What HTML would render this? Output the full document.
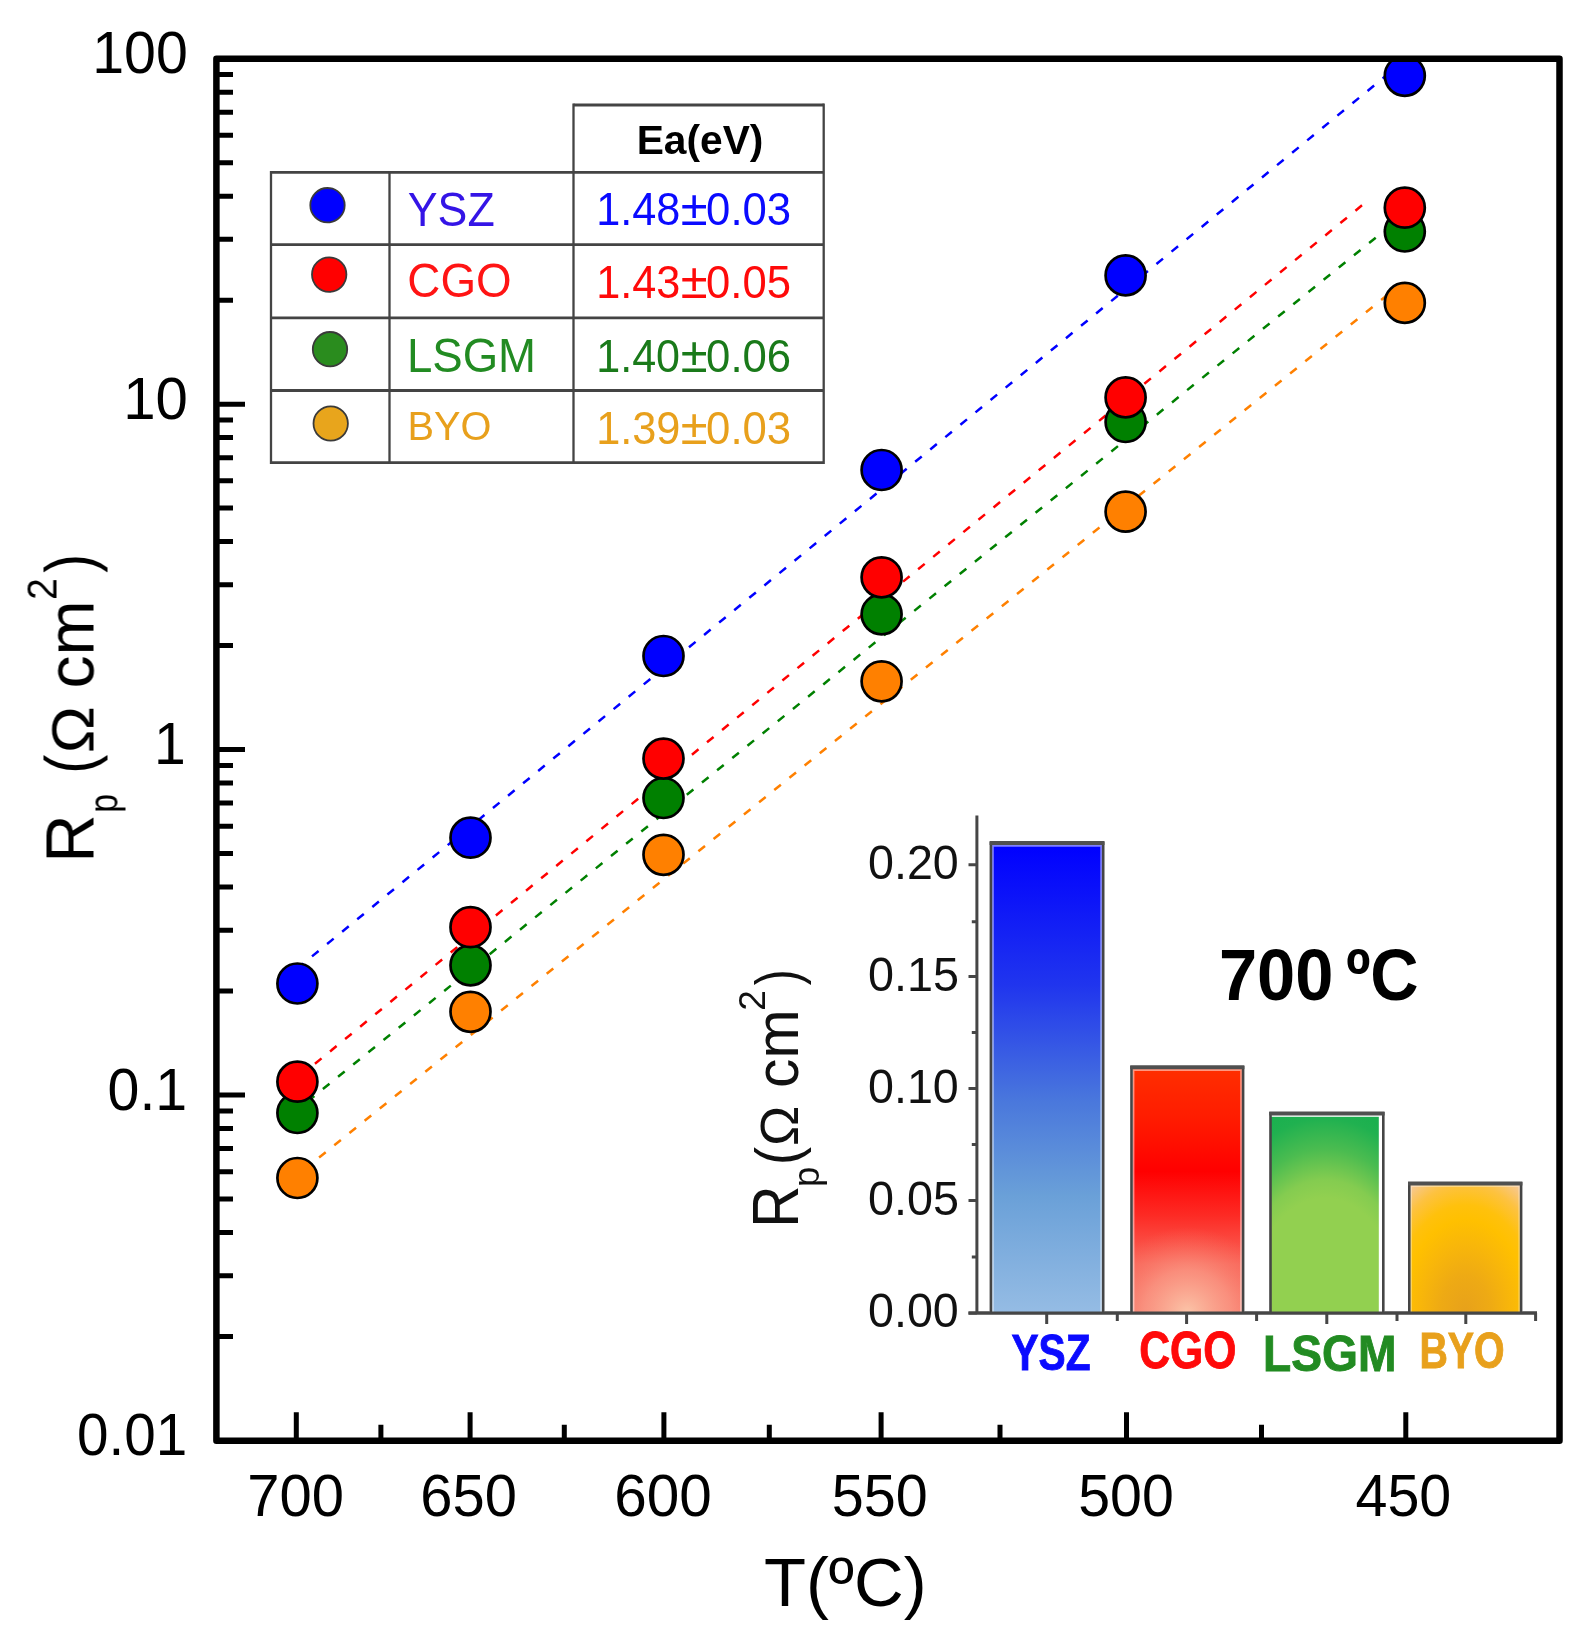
<!DOCTYPE html>
<html lang="en"><head><meta charset="utf-8"><title>Rp vs T</title>
<style>html,body{margin:0;padding:0;background:#fff}svg{display:block}</style></head>
<body>
<svg width="1578" height="1646" viewBox="0 0 1578 1646" font-family='"Liberation Sans", Arial, Helvetica, sans-serif' style="font-kerning:none">
<defs>
<filter id="soft" filterUnits="userSpaceOnUse" x="0" y="0" width="1578" height="1646" color-interpolation-filters="sRGB"><feGaussianBlur stdDeviation="0.7"/></filter>
<clipPath id="plot"><rect x="216.4" y="58.8" width="1343.1" height="1382.0"/></clipPath>
<linearGradient id="gB" x1="0" y1="0" x2="0" y2="1"><stop offset="0" stop-color="#0000ff"/><stop offset="0.3" stop-color="#2035ee"/><stop offset="0.55" stop-color="#4a78dc"/><stop offset="0.75" stop-color="#6aa0d8"/><stop offset="1" stop-color="#95bce4"/></linearGradient>
<linearGradient id="gR" x1="0" y1="0" x2="0" y2="1"><stop offset="0" stop-color="#ff2e00"/><stop offset="0.2" stop-color="#ff1c00"/><stop offset="0.42" stop-color="#ff0000"/><stop offset="0.6" stop-color="#fd2a24"/><stop offset="0.8" stop-color="#f9665a"/><stop offset="1" stop-color="#f7786a"/></linearGradient>
<radialGradient id="gR2" cx="0.5" cy="1" r="0.8" gradientTransform="translate(0 0.56) scale(1 0.44)"><stop offset="0" stop-color="#fbc4a8" stop-opacity="1"/><stop offset="0.5" stop-color="#fa9c88" stop-opacity="0.7"/><stop offset="1" stop-color="#f8705f" stop-opacity="0"/></radialGradient>
<radialGradient id="gG" gradientUnits="userSpaceOnUse" cx="0" cy="0" r="205" gradientTransform="translate(1325 1313) scale(0.667 1)"><stop offset="0" stop-color="#92d050"/><stop offset="0.56" stop-color="#92d050"/><stop offset="0.65" stop-color="#84cc50"/><stop offset="0.8" stop-color="#4bbc50"/><stop offset="0.95" stop-color="#20b150"/><stop offset="1" stop-color="#1cb04f"/></radialGradient>
<radialGradient id="gO" gradientUnits="userSpaceOnUse" cx="0" cy="0" r="150" gradientTransform="translate(1465.3 1313) scale(0.667 1)"><stop offset="0" stop-color="#e7a11b"/><stop offset="0.25" stop-color="#eeaa14"/><stop offset="0.45" stop-color="#f8b60a"/><stop offset="0.62" stop-color="#ffc000"/><stop offset="0.72" stop-color="#ffc10c"/><stop offset="0.86" stop-color="#fdc240"/><stop offset="1" stop-color="#f7c894"/></radialGradient>
</defs>
<rect width="1578" height="1646" fill="#fff"/>
<g filter="url(#soft)">
<g clip-path="url(#plot)">
<line x1="297" y1="968.7" x2="1405" y2="60.2" stroke="#0000ff" stroke-width="2.5" stroke-dasharray="8.5 11" stroke-dashoffset="0.10"/>
<line x1="297" y1="1078.5" x2="1362" y2="205.3" stroke="#ff0000" stroke-width="2.5" stroke-dasharray="8.5 11" stroke-dashoffset="15.79"/>
<line x1="297" y1="1110" x2="1392" y2="224.5" stroke="#008000" stroke-width="2.5" stroke-dasharray="8.5 11" stroke-dashoffset="5.70"/>
<line x1="297" y1="1175.4" x2="1404" y2="281.6" stroke="#ff8000" stroke-width="2.5" stroke-dasharray="8.5 11" stroke-dashoffset="10.60"/>
<circle cx="297.4" cy="983.5" r="20" fill="#0000ff" stroke="#000" stroke-width="2.7"/>
<circle cx="470.5" cy="837.7" r="20" fill="#0000ff" stroke="#000" stroke-width="2.7"/>
<circle cx="663.5" cy="656" r="20" fill="#0000ff" stroke="#000" stroke-width="2.7"/>
<circle cx="881.6" cy="470" r="20" fill="#0000ff" stroke="#000" stroke-width="2.7"/>
<circle cx="1125.6" cy="275.4" r="20" fill="#0000ff" stroke="#000" stroke-width="2.7"/>
<circle cx="1404.8" cy="75.8" r="20" fill="#0000ff" stroke="#000" stroke-width="2.7"/>
<circle cx="297.4" cy="1178" r="20" fill="#ff8000" stroke="#000" stroke-width="2.7"/>
<circle cx="470.5" cy="1011.8" r="20" fill="#ff8000" stroke="#000" stroke-width="2.7"/>
<circle cx="663.5" cy="854.8" r="20" fill="#ff8000" stroke="#000" stroke-width="2.7"/>
<circle cx="881.6" cy="681.3" r="20" fill="#ff8000" stroke="#000" stroke-width="2.7"/>
<circle cx="1125.6" cy="511.7" r="20" fill="#ff8000" stroke="#000" stroke-width="2.7"/>
<circle cx="1404.8" cy="302.9" r="20" fill="#ff8000" stroke="#000" stroke-width="2.7"/>
<circle cx="297.4" cy="1113" r="20" fill="#008000" stroke="#000" stroke-width="2.7"/>
<circle cx="470.5" cy="965.3" r="20" fill="#008000" stroke="#000" stroke-width="2.7"/>
<circle cx="663.5" cy="798" r="20" fill="#008000" stroke="#000" stroke-width="2.7"/>
<circle cx="881.6" cy="614.3" r="20" fill="#008000" stroke="#000" stroke-width="2.7"/>
<circle cx="1125.6" cy="422" r="20" fill="#008000" stroke="#000" stroke-width="2.7"/>
<circle cx="1404.8" cy="231.5" r="20" fill="#008000" stroke="#000" stroke-width="2.7"/>
<circle cx="297.4" cy="1081.7" r="20" fill="#ff0000" stroke="#000" stroke-width="2.7"/>
<circle cx="470.5" cy="927.2" r="20" fill="#ff0000" stroke="#000" stroke-width="2.7"/>
<circle cx="663.5" cy="758.6" r="20" fill="#ff0000" stroke="#000" stroke-width="2.7"/>
<circle cx="881.6" cy="577.3" r="20" fill="#ff0000" stroke="#000" stroke-width="2.7"/>
<circle cx="1125.6" cy="397.4" r="20" fill="#ff0000" stroke="#000" stroke-width="2.7"/>
<circle cx="1404.8" cy="207.7" r="20" fill="#ff0000" stroke="#000" stroke-width="2.7"/>
</g>
<rect x="216.4" y="58.8" width="1343.1" height="1382.0" fill="none" stroke="#000" stroke-width="6.5" stroke-linejoin="round"/>
<path d="M216.4 1440.5h28.6 M216.4 1336.5h16.6 M216.4 1275.7h16.6 M216.4 1232.5h16.6 M216.4 1199.0h16.6 M216.4 1171.7h16.6 M216.4 1148.6h16.6 M216.4 1128.5h16.6 M216.4 1110.9h16.6 M216.4 1095.0h28.6 M216.4 991.1h16.6 M216.4 930.2h16.6 M216.4 887.1h16.6 M216.4 853.6h16.6 M216.4 826.2h16.6 M216.4 803.1h16.6 M216.4 783.1h16.6 M216.4 765.4h16.6 M216.4 749.6h28.6 M216.4 645.6h16.6 M216.4 584.8h16.6 M216.4 541.6h16.6 M216.4 508.1h16.6 M216.4 480.8h16.6 M216.4 457.7h16.6 M216.4 437.6h16.6 M216.4 420.0h16.6 M216.4 404.2h28.6 M216.4 300.2h16.6 M216.4 239.3h16.6 M216.4 196.2h16.6 M216.4 162.7h16.6 M216.4 135.3h16.6 M216.4 112.2h16.6 M216.4 92.2h16.6 M216.4 74.5h16.6 M296.3 1440.8v-28.6 M470.1 1440.8v-28.6 M663.9 1440.8v-28.6 M881.1 1440.8v-28.6 M1126.5 1440.8v-28.6 M1405.8 1440.8v-28.6 M380.9 1440.8v-16 M564.3 1440.8v-16 M769.3 1440.8v-16 M1000.0 1440.8v-16 M1261.5 1440.8v-16" stroke="#000" stroke-width="5" fill="none"/>
<text x="92.24" y="73.1" font-size="58.6" fill="#000" textLength="95.60" lengthAdjust="spacingAndGlyphs">100</text>
<text x="123.17" y="418.6" font-size="58.6" fill="#000" textLength="64.70" lengthAdjust="spacingAndGlyphs">10</text>
<text x="154.05" y="764.0" font-size="58.6" fill="#000" textLength="31.73" lengthAdjust="spacingAndGlyphs">1</text>
<text x="107.56" y="1109.5" font-size="58.6" fill="#000" textLength="79.63" lengthAdjust="spacingAndGlyphs">0.1</text>
<text x="76.89" y="1454.9" font-size="58.6" fill="#000" textLength="110.28" lengthAdjust="spacingAndGlyphs">0.01</text>
<text x="247.23" y="1516.3" font-size="58.6" fill="#000" textLength="96.74" lengthAdjust="spacingAndGlyphs">700</text>
<text x="420.36" y="1516.3" font-size="58.6" fill="#000" textLength="96.60" lengthAdjust="spacingAndGlyphs">650</text>
<text x="614.23" y="1516.3" font-size="58.6" fill="#000" textLength="97.55" lengthAdjust="spacingAndGlyphs">600</text>
<text x="831.70" y="1516.3" font-size="58.6" fill="#000" textLength="95.95" lengthAdjust="spacingAndGlyphs">550</text>
<text x="1078.21" y="1516.3" font-size="58.6" fill="#000" textLength="95.53" lengthAdjust="spacingAndGlyphs">500</text>
<text x="1355.48" y="1516.3" font-size="58.6" fill="#000" textLength="95.76" lengthAdjust="spacingAndGlyphs">450</text>
<text x="763.96" y="1606" font-size="69" fill="#000" textLength="162.61" lengthAdjust="spacingAndGlyphs">T(ºC)</text>
<text transform="translate(93.5 0) rotate(-90)" fill="#000"><tspan x="-862.80" y="0.0" font-size="69" textLength="48.41" lengthAdjust="spacingAndGlyphs">R</tspan><tspan x="-812.68" y="23.8" font-size="40.4" textLength="28.19" lengthAdjust="spacingAndGlyphs">p </tspan><tspan x="-773.66" y="-0.2" font-size="68.2" textLength="19.09" lengthAdjust="spacingAndGlyphs">(</tspan><tspan x="-753.18" y="0.0" font-size="58.4" textLength="64.73" lengthAdjust="spacingAndGlyphs">Ω </tspan><tspan x="-688.61" y="0.0" font-size="67.5" textLength="88.17" lengthAdjust="spacingAndGlyphs">cm</tspan><tspan x="-599.98" y="-37.1" font-size="42" textLength="21.85" lengthAdjust="spacingAndGlyphs">2</tspan><tspan x="-572.83" y="-0.2" font-size="68.2" textLength="18.84" lengthAdjust="spacingAndGlyphs">)</tspan></text>
<g stroke="#444" fill="none">
<path stroke-width="2.8" d="M573.5 105H823.7 M270 172.4H823.7 M270 244.7H823.7 M270 317.8H823.7 M270 390.5H823.7 M270 462.6H823.7"/>
<path stroke-width="2.3" d="M271 171V464 M389.5 171V464 M573.5 103.6V464 M823.7 103.6V464"/>
</g>
<circle cx="327.5" cy="205.2" r="17.2" fill="#0000ff" stroke="#3a3a3a" stroke-width="1.8"/>
<circle cx="329.2" cy="274.6" r="17.2" fill="#ff0000" stroke="#3a3a3a" stroke-width="1.8"/>
<circle cx="330" cy="349.2" r="17.2" fill="#2a8c1e" stroke="#3a3a3a" stroke-width="1.8"/>
<circle cx="330.7" cy="423.5" r="17.2" fill="#e8a51c" stroke="#3a3a3a" stroke-width="1.8"/>
<text x="636.68" y="153.8" font-size="41.5" fill="#000" font-weight="bold" textLength="126.75" lengthAdjust="spacingAndGlyphs">Ea(eV)</text>
<text x="407.82" y="225.5" font-size="48" fill="#3414e6" textLength="86.88" lengthAdjust="spacingAndGlyphs">YSZ</text>
<text y="225.3" fill="#0a0aff"><tspan x="596.21" font-size="46" textLength="84.07" lengthAdjust="spacingAndGlyphs">1.48</tspan><tspan x="680.65" font-size="50" textLength="26.77" lengthAdjust="spacingAndGlyphs">±</tspan><tspan x="706.09" font-size="46" textLength="85.03" lengthAdjust="spacingAndGlyphs">0.03</tspan></text>
<text x="407.37" y="297.2" font-size="48" fill="#ff1414" textLength="104.32" lengthAdjust="spacingAndGlyphs">CGO</text>
<text y="297.5" fill="#ff0a0a"><tspan x="596.21" font-size="46" textLength="84.09" lengthAdjust="spacingAndGlyphs">1.43</tspan><tspan x="680.65" font-size="50" textLength="26.77" lengthAdjust="spacingAndGlyphs">±</tspan><tspan x="706.10" font-size="46" textLength="84.94" lengthAdjust="spacingAndGlyphs">0.05</tspan></text>
<text x="406.96" y="371.5" font-size="48" fill="#228b22" textLength="129.07" lengthAdjust="spacingAndGlyphs">LSGM</text>
<text y="371.5" fill="#1a7a1a"><tspan x="596.22" font-size="46" textLength="83.87" lengthAdjust="spacingAndGlyphs">1.40</tspan><tspan x="680.65" font-size="50" textLength="26.77" lengthAdjust="spacingAndGlyphs">±</tspan><tspan x="706.09" font-size="46" textLength="85.03" lengthAdjust="spacingAndGlyphs">0.06</tspan></text>
<text x="407.44" y="439.8" font-size="41.5" fill="#e8a01c" textLength="83.96" lengthAdjust="spacingAndGlyphs">BYO</text>
<text y="444" fill="#e8a01c"><tspan x="596.20" font-size="46" textLength="84.25" lengthAdjust="spacingAndGlyphs">1.39</tspan><tspan x="680.65" font-size="50" textLength="26.77" lengthAdjust="spacingAndGlyphs">±</tspan><tspan x="706.09" font-size="46" textLength="85.03" lengthAdjust="spacingAndGlyphs">0.03</tspan></text>
<g stroke="#464646" stroke-width="3" fill="none">
<path d="M976.9 815.5V1314.5 M968.5 1313.0H1537 M968.5 1313.2H976.9 M968.5 1200.6H976.9 M968.5 1088.6H976.9 M968.5 976.6H976.9 M968.5 864.8H976.9 M971.8 1256.9H976.9 M971.8 1144.6H976.9 M971.8 1032.6H976.9 M971.8 921.7H976.9 M1046.7 1313.0v11 M1186.6 1313.0v11 M1326.8 1313.0v11 M1465.8 1313.0v11 M1117.3 1313.0v8 M1256.6 1313.0v8 M1397 1313.0v8 M1535.6 1313.0v8"/>
</g>
<rect x="989.6" y="841.0" width="114.9" height="472.5" fill="#fff" stroke="none"/>
<rect x="992.2" y="845.0" width="109.7" height="467.5" fill="url(#gB)"/>
<path d="M993.0 1312.0V845.9H1101.1V1312.0" fill="none" stroke="#fff" stroke-opacity="0.5" stroke-width="1.6"/>
<path d="M990.9 1313.0V843.0H1103.2V1313.0" fill="none" stroke="#454545" stroke-width="2.6"/>
<path d="M989.6 843.0H1104.5" fill="none" stroke="#505050" stroke-width="4"/>
<rect x="1130.2" y="1065.2" width="114.2" height="248.3" fill="#fff" stroke="none"/>
<rect x="1132.8" y="1069.2" width="109.0" height="243.3" fill="url(#gR)"/>
<rect x="1132.8" y="1069.2" width="109.0" height="243.3" fill="url(#gR2)"/>
<path d="M1133.6 1312.0V1070.1H1241.0V1312.0" fill="none" stroke="#fff" stroke-opacity="0.5" stroke-width="1.6"/>
<path d="M1131.5 1313.0V1067.2H1243.1V1313.0" fill="none" stroke="#454545" stroke-width="2.6"/>
<path d="M1130.2 1067.2H1244.4" fill="none" stroke="#505050" stroke-width="4"/>
<rect x="1269.2" y="1111.4" width="115.4" height="202.1" fill="#fff" stroke="none"/>
<rect x="1270.8" y="1116.8" width="108.0" height="195.7" fill="url(#gG)"/>
<path d="M1270.5 1313.0V1113.4H1383.3V1313.0" fill="none" stroke="#454545" stroke-width="2.6"/>
<path d="M1269.2 1113.4H1384.6" fill="none" stroke="#505050" stroke-width="4"/>
<rect x="1408.0" y="1181.4" width="114.4" height="132.1" fill="#fff" stroke="none"/>
<rect x="1410.4" y="1185.2" width="109.6" height="127.3" fill="url(#gO)"/>
<path d="M1411.2 1312.0V1186.1H1519.2V1312.0" fill="none" stroke="#fff" stroke-opacity="0.35" stroke-width="1.6"/>
<path d="M1409.3 1313.0V1183.4H1521.1V1313.0" fill="none" stroke="#454545" stroke-width="2.6"/>
<path d="M1408.0 1183.4H1522.4" fill="none" stroke="#505050" stroke-width="4"/>
<path d="M968.5 1313.0H1537" stroke="#464646" stroke-width="3"/>
<text x="867.98" y="1327.1" font-size="48.5" fill="#111" textLength="90.85" lengthAdjust="spacingAndGlyphs">0.00</text>
<text x="867.97" y="1214.5" font-size="48.5" fill="#111" textLength="90.99" lengthAdjust="spacingAndGlyphs">0.05</text>
<text x="867.98" y="1102.5" font-size="48.5" fill="#111" textLength="90.85" lengthAdjust="spacingAndGlyphs">0.10</text>
<text x="867.97" y="990.5" font-size="48.5" fill="#111" textLength="90.99" lengthAdjust="spacingAndGlyphs">0.15</text>
<text x="867.98" y="878.7" font-size="48.5" fill="#111" textLength="90.85" lengthAdjust="spacingAndGlyphs">0.20</text>
<text transform="translate(798.3 0) rotate(-90)" fill="#111"><tspan x="-1227.81" y="0.0" font-size="65" textLength="42.33" lengthAdjust="spacingAndGlyphs">R</tspan><tspan x="-1186.95" y="21.0" font-size="37.8" textLength="20.28" lengthAdjust="spacingAndGlyphs">p</tspan><tspan x="-1165.34" y="0.0" font-size="62" textLength="18.46" lengthAdjust="spacingAndGlyphs">(</tspan><tspan x="-1145.88" y="0.0" font-size="53" textLength="55.13" lengthAdjust="spacingAndGlyphs">Ω </tspan><tspan x="-1087.90" y="0.0" font-size="62" textLength="78.48" lengthAdjust="spacingAndGlyphs">cm</tspan><tspan x="-1010.65" y="-33.0" font-size="37.5" textLength="20.51" lengthAdjust="spacingAndGlyphs">2</tspan><tspan x="-985.28" y="0.0" font-size="62" textLength="15.83" lengthAdjust="spacingAndGlyphs">)</tspan></text>
<text y="1000.2" font-weight="bold" fill="#000"><tspan x="1218.95" font-size="72" textLength="133.52" lengthAdjust="spacingAndGlyphs">700 </tspan><tspan x="1345.93" font-size="72" textLength="72.70" lengthAdjust="spacingAndGlyphs">ºC</tspan></text>
<text stroke="#0a0aff" stroke-width="0.9" x="1011.51" y="1370.2" font-size="50.5" fill="#0a0aff" font-weight="bold" textLength="79.07" lengthAdjust="spacingAndGlyphs">YSZ</text>
<text stroke="#ff0a0a" stroke-width="0.9" x="1139.15" y="1368.3" font-size="51.5" fill="#ff0a0a" font-weight="bold" textLength="97.24" lengthAdjust="spacingAndGlyphs">CGO</text>
<text stroke="#228b22" stroke-width="0.9" x="1263.11" y="1371" font-size="50.5" fill="#228b22" font-weight="bold" textLength="133.38" lengthAdjust="spacingAndGlyphs">LSGM</text>
<text stroke="#e8a01c" stroke-width="0.9" x="1419.47" y="1367.5" font-size="50.5" fill="#e8a01c" font-weight="bold" textLength="85.18" lengthAdjust="spacingAndGlyphs">BYO</text>
</g>
</svg>
</body></html>
